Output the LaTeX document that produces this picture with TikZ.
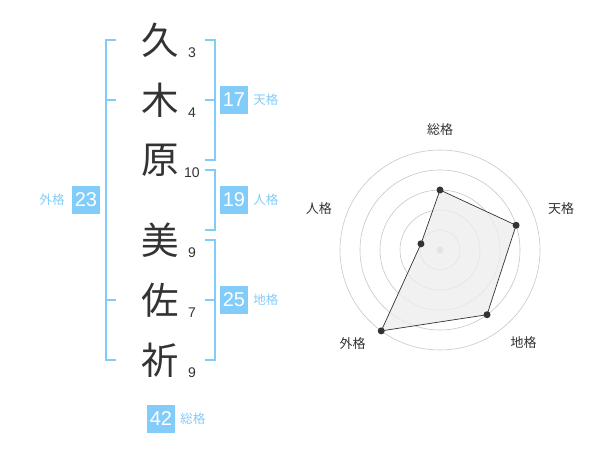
\documentclass[tikz,border=0pt]{standalone}
\usepackage{fontspec}
\setmainfont{Liberation Sans}
\newfontfamily\cjk{Noto Sans CJK JP}
\usepackage{tikz}
\usetikzlibrary{arrows}
\usetikzlibrary{positioning}
\definecolor{kaku}{RGB}{130,204,250}
\definecolor{ink}{RGB}{51,51,51}

\begin{document}
\begin{tikzpicture}
		[x=1pt,y=-1pt,
		kanji/.style={inner sep=0,text=ink,font=\cjk\fontsize{37.5}{37.5}\selectfont},
		strokes/.style={inner sep=0,text=ink,font=\fontsize{14}{14}\selectfont},
		kbox/.style={fill=kaku,text=white,minimum size=28pt,inner sep=0,font=\fontsize{20}{20}\selectfont},
		klabel/.style={inner sep=0,text=kaku,font=\cjk\fontsize{12.5}{12.5}\selectfont},
		rlabel/.style={inner sep=0,text=ink,font=\cjk\fontsize{13}{13}\selectfont},
		brace/.style={draw=kaku,line width=2pt},
		ring/.style={draw=black!22,line width=.6pt}]
		\useasboundingbox (0,0) rectangle (600,470);
		
		\node[kanji] (k1) at (160,40) {久};
		\node[kanji] (k2) at (160,100) {木};
		\node[kanji] (k3) at (160,160) {原};
		\node[kanji] (k4) at (160,240) {美};
		\node[kanji] (k5) at (160,300) {佐};
		\node[kanji] (k6) at (160,360) {祈};
		
		\foreach \k/\n in {k1/3, k2/4, k3/10, k4/9, k5/7, k6/9}
		\node[strokes] at ([xshift=32pt,yshift=-13pt]\k.center) {\n};
		
		\draw[brace] (116,40) -- (106,40) -- (106,360) -- (116,360);
		\draw[brace] (106,100) -- (116,100);
		\draw[brace] (106,300) -- (116,300);
		\draw[brace] (205,40) -- (215,40) -- (215,160) -- (205,160);
		\draw[brace] (205,100) -- (215,100);
		\draw[brace] (205,170) -- (215,170) -- (215,230) -- (205,230);
		\draw[brace] (205,240) -- (215,240) -- (215,360) -- (205,360);
		\draw[brace] (205,300) -- (215,300);
		
		\node[kbox] (ten) at (234,100) {17};
		\node[klabel,right=5pt of ten] {天格};
		\node[kbox] (jin) at (234,200) {19};
		\node[klabel,right=5pt of jin] {人格};
		\node[kbox] (chi) at (234,300) {25};
		\node[klabel,right=5pt of chi] {地格};
		\node[kbox] (gai) at (86,200) {23};
		\node[klabel,left=7pt of gai] {外格};
		\node[kbox] (sou) at (161,419) {42};
		\node[klabel,right=5pt of sou] {総格};
		
		\begin{scope}[shift={(440,250)}]
		\foreach \r in {20,40,...,100}
		\draw[ring] (0,0) circle[radius=\r pt];
		\fill[black!25] (0,0) circle[radius=3.5pt];
		\coordinate (rs) at (-90:60);
		\coordinate (rt) at (-18:80);
		\coordinate (rc) at (54:80);
		\coordinate (rg) at (126:100);
		\coordinate (rj) at (198:20);
		\filldraw[fill=black!7,draw=ink,line width=.7pt,fill opacity=.8]
		(rs) -- (rt) -- (rc) -- (rg) -- (rj) -- cycle;
		\foreach \p in {rs,rt,rc,rg,rj}
		\fill[ink] (\p) circle[radius=3.5pt];
		\node[rlabel] (ls) at (-90:120) {総格};
		\node[rlabel] (lt) at (-19:128) {天格};
		\node[rlabel] (lc) at (48:125) {地格};
		\node[rlabel] (lg) at (133:128) {外格};
		\node[rlabel] (lj) at (199:128) {人格};
		\end{scope}
\end{tikzpicture}
\end{document}
